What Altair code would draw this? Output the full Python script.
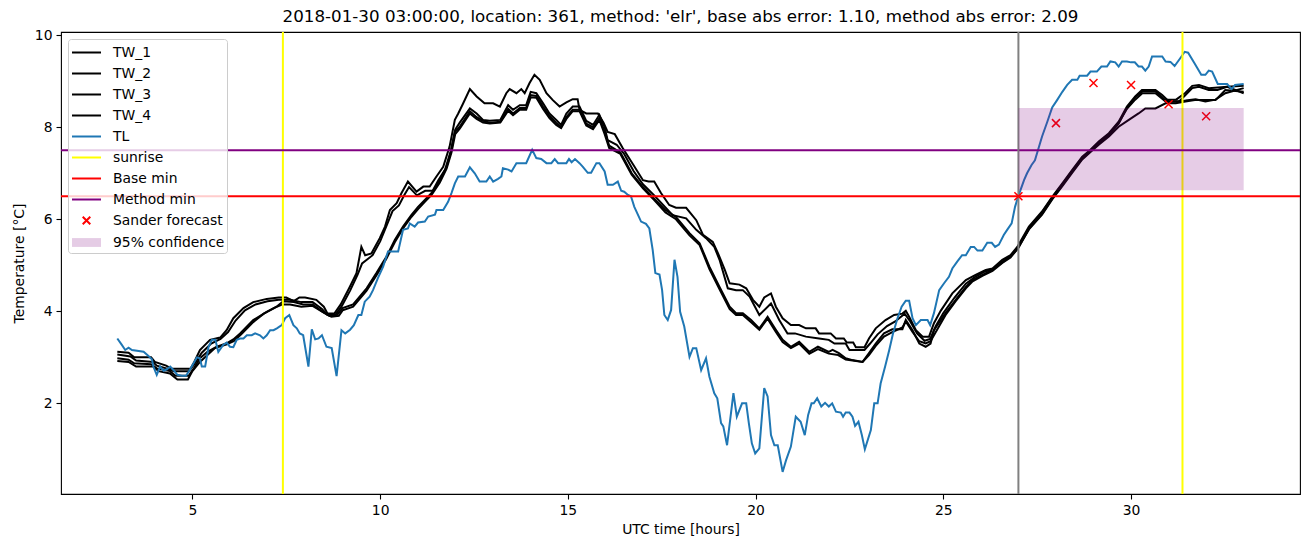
import altair as alt
import pandas as pd

TITLE = "2018-01-30 03:00:00, location: 361, method: 'elr', base abs error: 1.10, method abs error: 2.09"
FONT = "DejaVu Sans"

# ---------------- data ----------------
tl_hours = [3.0, 3.12, 3.21, 3.30, 3.39, 3.70, 3.83, 3.92, 3.96, 4.05, 4.14, 4.23, 4.32, 4.41, 4.50, 4.60, 4.72, 4.83, 4.94,
            5.12, 5.20, 5.25, 5.34, 5.43, 5.52, 5.61, 5.69, 5.82, 5.91, 6.00, 6.09, 6.18, 6.27, 6.36, 6.45, 6.58, 6.67, 6.80,
            6.89, 6.98, 7.07, 7.16, 7.25, 7.38, 7.47, 7.58, 7.69, 7.78, 7.86, 7.95, 8.09, 8.18, 8.27, 8.36, 8.45, 8.57, 8.71,
            8.84, 8.97, 9.07, 9.20, 9.30, 9.42, 9.50, 9.59, 9.72, 9.81, 9.94, 10.08, 10.21, 10.30, 10.48, 10.61, 10.74, 10.79,
            10.92, 11.01, 11.19, 11.28, 11.46, 11.50, 11.68, 11.81, 11.90, 11.99, 12.08, 12.26, 12.39, 12.52, 12.65, 12.83,
            12.92, 13.01, 13.14, 13.23, 13.27, 13.41, 13.50, 13.63, 13.89, 14.05, 14.16, 14.29, 14.43, 14.56, 14.65, 14.74,
            14.96, 15.03, 15.10, 15.19, 15.31, 15.40, 15.53, 15.62, 15.76, 15.84, 15.98, 16.06, 16.20, 16.33, 16.42, 16.50,
            16.60, 16.68, 16.77, 16.95, 17.08, 17.17, 17.26, 17.33, 17.44, 17.51, 17.57, 17.66, 17.75, 17.84, 17.92, 17.99,
            18.10, 18.24, 18.33, 18.42, 18.55, 18.68, 18.77, 18.90, 18.98, 19.08, 19.14, 19.24, 19.41, 19.50, 19.64, 19.75,
            19.82, 19.90, 19.99, 20.10, 20.23, 20.32, 20.41, 20.50, 20.59, 20.72, 20.81, 20.94, 21.07, 21.20, 21.31, 21.40,
            21.49, 21.55, 21.64, 21.75, 21.85, 21.95, 22.04, 22.14, 22.27, 22.33, 22.40, 22.50, 22.58, 22.65, 22.74, 22.83,
            22.91, 23.07, 23.16, 23.25, 23.33, 23.45, 23.56, 23.66, 23.78, 23.89, 24.00, 24.09, 24.18, 24.27, 24.40, 24.49,
            24.58, 24.65, 24.75, 24.89, 25.02, 25.15, 25.24, 25.37, 25.50, 25.60, 25.73, 25.82, 25.91, 26.04, 26.17, 26.29,
            26.38, 26.48, 26.61, 26.70, 26.82, 26.91, 27.00, 27.15, 27.23, 27.35, 27.44, 27.55, 27.63, 27.77, 27.90, 28.03,
            28.17, 28.30, 28.43, 28.57, 28.63, 28.83, 28.92, 29.09, 29.21, 29.36, 29.45, 29.58, 29.67, 29.76, 29.89, 30.00,
            30.10, 30.20, 30.29, 30.38, 30.47, 30.56, 30.83, 30.92, 31.05, 31.16, 31.31, 31.43, 31.52, 31.69, 31.87, 31.98,
            32.07, 32.16, 32.31, 32.42, 32.56, 32.68, 32.77, 33.0]
tl_values = [3.41, 3.27, 3.16, 3.21, 3.16, 3.12, 3.03, 2.96, 2.80, 2.62, 2.80, 2.71, 2.74, 2.80, 2.72, 2.62, 2.60, 2.60, 2.74,
             3.00, 2.98, 2.80, 2.80, 3.23, 3.38, 3.38, 3.12, 3.27, 3.32, 3.23, 3.22, 3.38, 3.41, 3.41, 3.48, 3.48, 3.52, 3.48,
             3.41, 3.48, 3.59, 3.59, 3.63, 3.70, 3.85, 3.92, 3.70, 3.63, 3.52, 3.48, 2.80, 3.61, 3.39, 3.41, 3.48, 3.23, 3.20,
             2.59, 3.59, 3.52, 3.60, 3.70, 3.92, 3.92, 4.21, 4.32, 4.46, 4.72, 4.97, 5.30, 5.30, 5.30, 5.77, 5.80, 5.91,
             5.84, 5.93, 5.95, 6.06, 6.10, 6.20, 6.20, 6.38, 6.57, 6.78, 6.93, 6.93, 7.13, 7.00, 6.82, 6.82,
             6.93, 6.82, 6.88, 6.93, 7.11, 7.08, 7.04, 7.22, 7.22, 7.51, 7.33, 7.31, 7.22, 7.22, 7.31, 7.22,
             7.22, 7.31, 7.24, 7.31, 7.22, 7.14, 7.01, 7.01, 7.22, 7.22, 7.04, 6.75, 6.75, 6.82, 6.62, 6.60,
             6.53, 6.50, 6.27, 5.95, 5.90, 5.80, 5.33, 4.83, 4.80, 4.46, 3.92, 3.81, 4.03, 5.12, 4.75, 3.99,
             3.67, 3.01, 3.20, 3.20, 2.72, 2.98, 2.58, 2.22, 2.11, 1.57, 1.50, 1.09, 2.22, 1.71, 2.00, 2.00,
             1.57, 1.13, 0.91, 1.02, 2.33, 2.15, 1.31, 1.09, 1.09, 0.51, 0.76, 1.06, 1.71, 1.60, 1.31, 1.75,
             2.00, 2.00, 2.11, 1.93, 2.01, 1.93, 2.00, 1.82, 1.80, 1.71, 1.80, 1.80, 1.71, 1.51, 1.60, 1.31,
             1.00, 1.42, 2.00, 2.00, 2.43, 2.80, 3.16, 3.52, 3.85, 4.10, 4.23, 4.23, 3.85, 3.70, 3.81, 3.81,
             3.81, 3.70, 3.96, 4.46, 4.61, 4.75, 4.93, 5.08, 5.22, 5.22, 5.40, 5.40, 5.32, 5.32, 5.49, 5.49,
             5.40, 5.45, 5.66, 5.77, 5.91, 6.27, 6.51, 6.85, 7.00, 7.18, 7.28, 7.58, 7.80, 8.12, 8.43, 8.59,
             8.77, 8.92, 9.03, 9.03, 9.12, 9.12, 9.21, 9.21, 9.32, 9.32, 9.43, 9.41, 9.32, 9.43, 9.43, 9.41,
             9.41, 9.32, 9.32, 9.23, 9.32, 9.54, 9.54, 9.43, 9.42, 9.33, 9.50, 9.64, 9.62, 9.39, 9.14, 9.14,
             9.23, 9.21, 8.94, 8.94, 8.94, 8.83, 8.92, 8.94]

tw1_hours = [3.0, 3.3, 3.45, 3.9, 4.0, 4.3, 4.45, 4.95, 5.05, 5.2, 5.47, 5.74, 5.91, 6.09, 6.36, 6.62, 6.98, 7.3, 7.5, 7.7,
             7.85, 8.0, 8.3, 8.5, 8.6, 8.78, 8.95, 9.19, 9.37, 9.5, 9.6, 9.77, 9.99, 10.13, 10.26, 10.44, 10.57, 10.74, 10.97,
             11.15, 11.32, 11.5, 11.68, 11.85, 11.99, 12.08, 12.2, 12.39, 12.57, 12.78, 13.01, 13.19, 13.36, 13.45, 13.63,
             13.76, 13.85, 13.98, 14.11, 14.25, 14.43, 14.6, 14.78, 14.96, 15.13, 15.26, 15.31, 15.49, 15.8, 15.95, 16.06,
             16.25, 16.46, 16.73, 17.0, 17.15, 17.3, 17.48, 17.7, 17.88, 18.15, 18.42, 18.6, 18.86, 19.0, 19.18, 19.31,
             19.57, 19.75, 19.93, 20.1, 20.23, 20.41, 20.54, 20.72, 20.94, 21.16, 21.34, 21.6, 21.69, 22.0, 22.14, 22.35,
             22.43, 22.6, 22.67, 22.9, 23.02, 23.2, 23.46, 23.69, 23.91, 24.0, 24.09, 24.27, 24.45, 24.62, 24.75, 24.93,
             25.24, 25.6, 25.86, 26.13, 26.31, 26.57, 26.79, 26.97, 27.28, 27.63, 27.9, 28.17, 28.43, 28.7, 28.92, 29.14,
             29.41, 29.67, 29.89, 30.11, 30.29, 30.65, 30.83, 31.01, 31.28, 31.45, 31.63, 31.81, 32.07, 32.3, 32.56, 33.0]
tw1_values = [3.12, 3.1, 3.0, 3.0, 2.9, 2.82, 2.75, 2.75, 2.9, 3.16, 3.38, 3.43, 3.59, 3.85, 4.07, 4.2, 4.27, 4.3, 4.3, 4.22,
              4.3, 4.3, 4.25, 4.1, 3.95, 3.95, 4.15, 4.53, 4.83, 5.4, 5.22, 5.26, 5.59, 5.84, 6.2, 6.35, 6.57, 6.82, 6.6,
              6.71, 6.71, 6.93, 7.14, 7.58, 8.16, 8.3, 8.5, 8.83, 8.67, 8.52, 8.52, 8.45, 8.74, 8.83, 8.74,
              8.83, 8.74, 8.96, 9.14, 9.03, 8.74, 8.59, 8.45, 8.54, 8.61, 8.61, 8.38, 8.3, 8.3, 8.1, 7.9,
              7.85, 7.55, 7.2, 6.85, 6.82, 6.82, 6.57, 6.31, 6.25, 6.25, 5.98, 5.66, 5.51, 5.26, 4.9, 4.61,
              4.58, 4.5, 4.25, 4.1, 4.3, 4.39, 4.1, 3.85, 3.7, 3.7, 3.63, 3.63, 3.52, 3.52, 3.41, 3.41,
              3.32, 3.32, 3.22, 3.22, 3.41, 3.63, 3.81, 3.92, 3.95, 4.01, 3.88, 3.59, 3.45, 3.45, 3.74, 4.01,
              4.39, 4.68, 4.79, 4.9, 4.93, 5.12, 5.22, 5.4, 5.84, 6.17, 6.49, 6.78, 7.07, 7.36, 7.51, 7.69,
              7.87, 8.12, 8.45, 8.67, 8.81, 8.81, 8.7, 8.56, 8.56, 8.7, 8.85, 8.88, 8.81, 8.81, 8.88, 8.9]

tw2_hours = [3.0, 3.35, 3.5, 3.95, 4.05, 4.35, 4.5, 4.9, 5.05, 5.25, 5.5, 5.75, 5.95, 6.15, 6.4, 6.68, 7.0, 7.3, 7.6, 7.9,
             8.2, 8.45, 8.6, 8.8, 8.97, 9.2, 9.4, 9.52, 9.8, 10.0, 10.18, 10.33, 10.5, 10.64, 10.77, 10.98, 11.2, 11.4,
             11.55, 11.73, 11.88, 12.0, 12.12, 12.39, 12.57, 12.74, 12.92, 13.2, 13.41, 13.54, 13.72, 13.89, 14.01, 14.16,
             14.34, 14.51, 14.69, 14.82, 14.96, 15.13, 15.31, 15.49, 15.67, 15.84, 15.98, 16.06, 16.3, 16.5, 16.75, 17.0,
             17.3, 17.55, 17.79, 18.15, 18.42, 18.68, 18.9, 19.04, 19.26, 19.48, 19.66, 19.84, 20.1, 20.41, 20.63, 20.85,
             21.05, 21.34, 21.69, 21.95, 22.1, 22.4, 22.5, 22.9, 23.05, 23.25, 23.5, 23.72, 23.97, 24.12, 24.3, 24.5,
             24.65, 24.8, 25.0, 25.3, 25.6, 25.85, 26.1, 26.35, 26.6, 26.8, 27.0, 27.3, 27.63, 27.9, 28.17, 28.43, 28.7,
             28.92, 29.14, 29.41, 29.67, 29.89, 30.11, 30.3, 30.65, 30.92, 31.2, 31.45, 31.72, 31.98, 32.25, 32.51, 33.0]
tw2_values = [3.06, 3.02, 2.93, 2.9, 2.82, 2.75, 2.7, 2.7, 2.85, 3.1, 3.3, 3.4, 3.55, 3.8, 4.02, 4.15, 4.22, 4.25, 4.25, 4.2,
              4.2, 4.05, 3.92, 3.92, 4.1, 4.45, 4.8, 5.04, 5.22, 5.52, 5.88, 6.18, 6.3, 6.52, 6.7, 6.52, 6.62, 6.62,
              6.85, 7.08, 7.48, 7.95, 8.1, 8.41, 8.3, 8.16, 8.14, 8.16, 8.48, 8.38, 8.48, 8.48, 8.77, 8.74,
              8.52, 8.3, 8.16, 8.05, 8.3, 8.45, 8.45, 8.14, 8.05, 8.27, 8.0, 7.72, 7.62, 7.42, 7.05, 6.76,
              6.52, 6.3, 6.09, 6.02, 5.77, 5.59, 5.4, 5.12, 4.5, 4.46, 4.46, 4.32, 3.92, 4.17, 3.81, 3.52,
              3.52, 3.45, 3.41, 3.38, 3.3, 3.3, 3.16, 3.16, 3.3, 3.5, 3.68, 3.78, 3.95, 3.78, 3.52, 3.36,
              3.4, 3.68, 3.96, 4.3, 4.6, 4.75, 4.86, 4.93, 5.08, 5.2, 5.38, 5.82, 6.15, 6.47, 6.76, 7.05, 7.34,
              7.5, 7.67, 7.85, 8.1, 8.4, 8.6, 8.74, 8.74, 8.56, 8.56, 8.58, 8.61, 8.56, 8.6, 8.74, 8.85]

tw3_hours = [3.0, 3.3, 3.45, 3.9, 4.05, 4.4, 4.55, 4.9, 5.05, 5.2, 5.4, 5.65, 5.9, 6.09, 6.27, 6.62, 6.98, 7.24, 7.42, 7.7,
             7.95, 8.2, 8.45, 8.65, 8.85, 9.0, 9.28, 9.64, 9.9, 10.17, 10.39, 10.61, 10.83, 11.01, 11.19, 11.37, 11.59,
             11.77, 11.9, 11.99, 12.12, 12.39, 12.57, 12.74, 12.92, 13.2, 13.41, 13.54, 13.72, 13.89, 14.01, 14.16, 14.34,
             14.51, 14.69, 14.82, 14.96, 15.13, 15.31, 15.49, 15.67, 15.84, 15.98, 16.1, 16.4, 16.7, 17.0, 17.3, 17.6,
             17.88, 18.24, 18.51, 18.77, 19.04, 19.31, 19.48, 19.66, 19.88, 20.1, 20.32, 20.54, 20.72, 20.94, 21.16,
             21.43, 21.66, 21.95, 22.05, 22.22, 22.4, 22.58, 22.85, 23.02, 23.2, 23.42, 23.64, 23.91, 24.0, 24.18, 24.36,
             24.53, 24.66, 24.75, 25.06, 25.33, 25.6, 25.78, 26.04, 26.31, 26.57, 26.79, 26.97, 27.28, 27.63, 27.9,
             28.17, 28.43, 28.7, 28.92, 29.14, 29.41, 29.67, 29.89, 30.11, 30.3, 30.65, 30.9, 31.2, 31.45, 31.63, 31.81,
             32.07, 32.56, 33.0]
tw3_values = [2.98, 2.95, 2.87, 2.85, 2.76, 2.7, 2.6, 2.6, 2.78, 2.98, 3.12, 3.23, 3.3, 3.39, 3.52, 3.81, 3.99, 4.1, 4.22, 4.2,
              4.15, 4.15, 4.0, 3.9, 3.92, 4.07, 4.15, 4.5, 4.83, 5.19, 5.55, 5.84, 6.09, 6.27, 6.42, 6.57, 6.85,
              7.14, 7.51, 7.9, 8.01, 8.35, 8.22, 8.14, 8.1, 8.12, 8.4, 8.3, 8.42, 8.42, 8.7, 8.68, 8.45,
              8.25, 8.1, 8.0, 8.22, 8.38, 8.38, 8.08, 8.0, 8.2, 7.9, 7.6, 7.45, 7.0, 6.7, 6.45, 6.2,
              6.05, 5.7, 5.48, 4.97, 4.53, 4.1, 3.96, 3.96, 3.81, 3.63, 3.88, 3.6, 3.38, 3.23, 3.34,
              3.12, 3.23, 3.12, 3.16, 3.09, 2.98, 2.94, 2.9, 3.09, 3.3, 3.52, 3.61, 3.61, 3.81, 3.59, 3.3,
              3.23, 3.3, 3.59, 3.96, 4.25, 4.53, 4.68, 4.79, 4.9, 5.08, 5.19, 5.37, 5.8, 6.12, 6.45,
              6.74, 7.03, 7.32, 7.48, 7.65, 7.83, 8.08, 8.42, 8.65, 8.78, 8.78, 8.6, 8.6, 8.75, 8.9, 8.92,
              8.85, 8.88, 8.74]

tw4_hours = [3.0, 3.3, 3.5, 3.95, 4.1, 4.4, 4.6, 4.88, 5.0, 5.2, 5.4, 5.6, 5.9, 6.1, 6.3, 6.6, 6.9, 7.2, 7.4, 7.6,
             7.9, 8.2, 8.5, 8.7, 8.9, 9.0, 9.28, 9.64, 9.9, 10.17, 10.39, 10.61, 10.83, 11.01, 11.19, 11.37, 11.59, 11.77,
             11.9, 12.0, 12.12, 12.39, 12.57, 12.74, 12.92, 13.2, 13.41, 13.54, 13.72, 13.89, 14.01, 14.16, 14.34, 14.51,
             14.69, 14.82, 14.96, 15.13, 15.31, 15.49, 15.67, 15.84, 15.98, 16.1, 16.4, 16.7, 17.0, 17.3, 17.6, 17.88,
             18.24, 18.51, 18.77, 19.04, 19.31, 19.48, 19.66, 19.88, 20.1, 20.32, 20.54, 20.72, 20.94, 21.16, 21.43,
             21.66, 21.95, 22.2, 22.4, 22.85, 23.02, 23.2, 23.42, 23.64, 23.91, 24.0, 24.18, 24.36, 24.53, 24.66, 24.8,
             25.06, 25.33, 25.6, 25.78, 26.04, 26.31, 26.57, 26.79, 26.97, 27.28, 27.63, 27.9, 28.17, 28.43, 28.7, 28.92,
             29.14, 29.41, 29.67, 29.94, 30.2, 30.38, 30.65, 30.92, 31.19, 31.45, 31.7, 32.25, 32.51, 33.0]
tw4_values = [2.92, 2.9, 2.8, 2.8, 2.7, 2.65, 2.52, 2.52, 2.7, 2.9, 3.05, 3.2, 3.28, 3.35, 3.5, 3.75, 3.95, 4.08, 4.15, 4.15,
              4.1, 4.12, 3.97, 3.88, 3.9, 4.02, 4.1, 4.45, 4.78, 5.15, 5.5, 5.8, 6.05, 6.22, 6.38, 6.53, 6.8, 7.1,
              7.45, 7.85, 7.97, 8.3, 8.18, 8.1, 8.08, 8.1, 8.36, 8.26, 8.38, 8.38, 8.65, 8.64, 8.4, 8.2,
              8.05, 7.98, 8.18, 8.35, 8.35, 8.04, 7.96, 8.16, 7.85, 7.55, 7.42, 6.97, 6.67, 6.42, 6.15, 6.0,
              5.65, 5.44, 4.92, 4.48, 4.05, 3.92, 3.92, 3.76, 3.6, 3.84, 3.55, 3.33, 3.2, 3.3, 3.08,
              3.18, 3.08, 3.05, 2.95, 2.9, 3.05, 3.25, 3.45, 3.55, 3.65, 3.78, 3.55, 3.35, 3.3, 3.35, 3.55,
              3.92, 4.22, 4.5, 4.65, 4.77, 4.88, 5.05, 5.17, 5.35, 5.78, 6.1, 6.43, 6.72, 7.01, 7.3, 7.46,
              7.62, 7.8, 8.01, 8.16, 8.3, 8.41, 8.41, 8.52, 8.52, 8.56, 8.59, 8.59, 8.81, 8.77]

sunrise_hours = [7.41, 31.37]
forecast_start = [27.0]
base_min = [6.5]
method_min = [7.5]
sander_hours = [27, 28, 29, 30, 31, 32]
sander_values = [6.5, 8.09, 8.96, 8.92, 8.5, 8.24]
conf_hours = [27.0, 33.0]
conf_bounds = [6.63, 8.42]

legend_labels = ["TW_1", "TW_2", "TW_3", "TW_4", "TL", "sunrise", "Base min", "Method min",
                 "Sander forecast", "95% confidence"]

# ---------------- styles ----------------
TL_BLUE = "#1f77b4"
BAND_COLOR = "#e5cce5"
LINE_PATH = "M-1.38,0H1.38"
X_PATH = "M-0.36,-0.36L0.36,0.36M0.36,-0.36L-0.36,0.36"
PATCH_PATH = "M-1.38,-0.42H1.38V0.42H-1.38Z"
legend_strokes = ["black", "black", "black", "black", TL_BLUE, "#ffff00", "red", "purple", "red", "transparent"]
legend_fills = ["transparent"] * 9 + [BAND_COLOR]
legend_shapes = [LINE_PATH] * 8 + [X_PATH, PATCH_PATH]

# ---------------- frames ----------------
tw_frames = []
for name, hs, vs in [("TW_1", tw1_hours, tw1_values), ("TW_2", tw2_hours, tw2_values),
                     ("TW_3", tw3_hours, tw3_values), ("TW_4", tw4_hours, tw4_values)]:
    tw_frames.append(pd.DataFrame({"hour": hs, "temp": vs, "series": name}))
tw_df = pd.concat(tw_frames, ignore_index=True)
tl_df = pd.DataFrame({"hour": tl_hours, "temp": tl_values})
sunrise_df = pd.DataFrame({"hour": sunrise_hours})
start_df = pd.DataFrame({"hour": forecast_start})
base_df = pd.DataFrame({"temp": base_min})
method_df = pd.DataFrame({"temp": method_min})
sander_df = pd.DataFrame({"hour": sander_hours, "temp": sander_values})
conf_df = pd.DataFrame({"hour": [conf_hours[0]], "hour2": [conf_hours[1]],
                        "temp": [conf_bounds[0]], "temp2": [conf_bounds[1]]})
leg_df = pd.DataFrame({"entry": legend_labels})

xscale = alt.Scale(domain=[1.5, 34.5], nice=False, zero=False)
yscale = alt.Scale(domain=[0.03, 10.07], nice=False, zero=False)
xaxis = alt.Axis(values=[5, 10, 15, 20, 25, 30], format="d", title="UTC time [hours]")
yaxis = alt.Axis(values=[2, 4, 6, 8, 10], format="d", title="Temperature [°C]")
X = alt.X("hour:Q", scale=xscale, axis=xaxis)
Y = alt.Y("temp:Q", scale=yscale, axis=yaxis)

tw_layer = alt.Chart(tw_df).mark_line(color="black", strokeWidth=2).encode(
    x=X, y=Y, detail="series:N", order=alt.Order("hour:Q"))
tl_layer = alt.Chart(tl_df).mark_line(color=TL_BLUE, strokeWidth=2).encode(
    x=X, y=Y, order=alt.Order("hour:Q"))
sunrise_layer = alt.Chart(sunrise_df).mark_rule(color="#ffff00", strokeWidth=2).encode(x=X)
base_layer = alt.Chart(base_df).mark_rule(color="red", strokeWidth=2).encode(y=Y)
method_layer = alt.Chart(method_df).mark_rule(color="purple", strokeWidth=2).encode(y=Y)
start_layer = alt.Chart(start_df).mark_rule(color="gray", strokeWidth=2).encode(x=X)
sander_layer = alt.Chart(sander_df).mark_point(
    shape="M-1,-1L1,1M1,-1L-1,1", size=64, filled=False, color="red", strokeWidth=1.5, opacity=1
).encode(x=X, y=Y)
conf_layer = alt.Chart(conf_df).mark_rect(color="purple", opacity=0.2).encode(
    x=X, x2="hour2:Q", y=Y, y2="temp2:Q")

leg = alt.Legend(title=None, orient="top-left", offset=7, padding=2,
                 fillColor="rgba(255,255,255,0.8)", strokeColor="#cccccc", cornerRadius=3,
                 labelFont=FONT, labelFontSize=13.9, labelColor="black", labelLimit=300,
                 symbolSize=441, symbolStrokeWidth=2, symbolOpacity=1, rowPadding=2,
                 symbolOffset=5, labelOffset=15)
legend_layer = alt.Chart(leg_df).mark_point(filled=True, opacity=1, clip=True, strokeWidth=2).encode(
    y=alt.value(-200),
    fill=alt.Fill("entry:N", scale=alt.Scale(domain=legend_labels, range=legend_fills), legend=leg),
    stroke=alt.Stroke("entry:N", scale=alt.Scale(domain=legend_labels, range=legend_strokes), legend=leg),
    shape=alt.Shape("entry:N", scale=alt.Scale(domain=legend_labels, range=legend_shapes), legend=leg),
)

chart = alt.layer(
    tw_layer, tl_layer, sunrise_layer, base_layer, method_layer, start_layer, sander_layer, conf_layer, legend_layer
).properties(
    width=1239, height=462,
    title=alt.TitleParams(TITLE, font=FONT, fontSize=16.7, fontWeight="normal", color="black",
                          anchor="middle", offset=3),
    padding={"left": 61, "top": 32, "right": 10, "bottom": 53},
    autosize=alt.AutoSizeParams(type="none"),
).configure_view(stroke="black", strokeWidth=1.1).configure_axis(
    grid=False, domain=False, tickColor="black", tickSize=5, tickWidth=1.1,
    labelFont=FONT, labelFontSize=13.9, labelColor="black", labelPadding=4,
    titleFont=FONT, titleFontSize=13.9, titleFontWeight="normal", titleColor="black",
).configure_axisX(titlePadding=6).configure_axisY(titlePadding=8)

chart.save("out.html", embed_options={"renderer": "svg", "actions": False})
